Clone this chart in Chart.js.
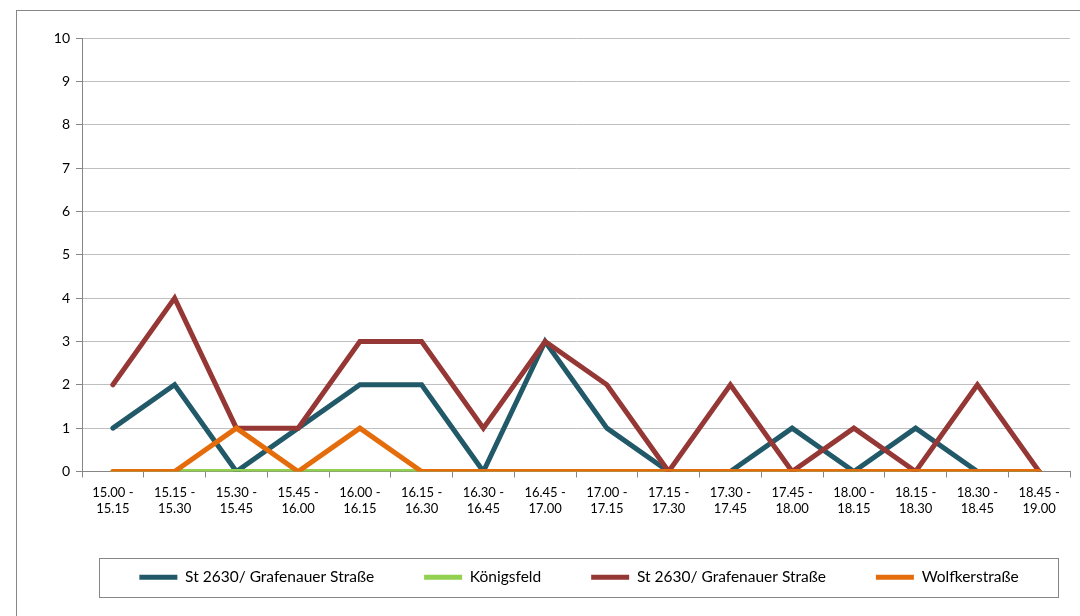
<!DOCTYPE html>
<html>
<head>
<meta charset="utf-8">
<script src="https://cdn.jsdelivr.net/npm/chart.js@4.4.1/dist/chart.umd.min.js"></script>
<style>
  html, body { margin: 0; padding: 0; background: #fff; }
  #wrap { width: 1080px; height: 616px; position: relative; }
</style>
</head>
<body>
<div id="wrap"><canvas id="c" width="1080" height="616"></canvas></div>
<script>
const categories = [
  ["15.00 -", "15.15"], ["15.15 -", "15.30"], ["15.30 -", "15.45"], ["15.45 -", "16.00"],
  ["16.00 -", "16.15"], ["16.15 -", "16.30"], ["16.30 -", "16.45"], ["16.45 -", "17.00"],
  ["17.00 -", "17.15"], ["17.15 -", "17.30"], ["17.30 -", "17.45"], ["17.45 -", "18.00"],
  ["18.00 -", "18.15"], ["18.15 -", "18.30"], ["18.30 -", "18.45"], ["18.45 -", "19.00"]
];
const seriesNames = ["St 2630/ Grafenauer Straße", "Königsfeld", "St 2630/ Grafenauer Straße", "Wolfkerstraße"];
const st2630a     = [1, 2, 0, 1, 2, 2, 0, 3, 1, 0, 0, 1, 0, 1, 0, 0];
const koenigsfeld = [0, 0, 0, 0, 0, 0, 0, 0, 0, 0, 0, 0, 0, 0, 0, 0];
const st2630b     = [2, 4, 1, 1, 3, 3, 1, 3, 2, 0, 2, 0, 1, 0, 2, 0];
const wolfker     = [0, 0, 1, 0, 1, 0, 0, 0, 0, 0, 0, 0, 0, 0, 0, 0];
const yTicks = [0, 1, 2, 3, 4, 5, 6, 7, 8, 9, 10];

const colors = ["#215968", "#92D050", "#953735", "#E46C0A"];
const FONT = "Lato, 'Open Sans', sans-serif";

const frame = {
  id: 'frame',
  beforeDraw(chart) {
    const ctx = chart.ctx;
    ctx.save();
    ctx.fillStyle = '#fff';
    ctx.fillRect(0, 0, chart.width, chart.height);
    ctx.strokeStyle = '#868686';
    ctx.lineWidth = 1;
    ctx.strokeRect(16.5, 10.5, 1200, 800);
    ctx.restore();
  },
  afterLayout(chart) {
    const lg = chart.legend;
    lg.left += 34;
    lg.right += 34;
  },
  afterDraw(chart) {
    const ctx = chart.ctx;
    ctx.save();
    ctx.strokeStyle = '#868686';
    ctx.lineWidth = 1;
    ctx.strokeRect(99.5, 558.5, 959, 39);
    ctx.restore();
  }
};

new Chart(document.getElementById('c'), {
  type: 'line',
  data: {
    labels: categories,
    datasets: [
      { label: seriesNames[0], data: st2630a, borderColor: colors[0], order: 3 },
      { label: seriesNames[1], data: koenigsfeld, borderColor: colors[1], order: 2 },
      { label: seriesNames[2], data: st2630b, borderColor: colors[2], order: 1 },
      { label: seriesNames[3], data: wolfker, borderColor: colors[3], order: 0 }
    ].map(d => Object.assign(d, {
      backgroundColor: d.borderColor, borderWidth: 5, pointRadius: 0, tension: 0, fill: false,
      borderCapStyle: 'round', borderJoinStyle: 'miter'
    }))
  },
  options: {
    responsive: false,
    animation: false,
    devicePixelRatio: 1,
    layout: { padding: { left: 20, right: 10, top: 38, bottom: 21 } },
    plugins: {
      tooltip: { enabled: false },
      legend: {
        position: 'bottom',
        labels: {
          boxWidth: 38, boxHeight: 5, padding: 50,
          color: '#000',
          font: { family: FONT, size: 15.5 },
          sort: (a, b) => a.datasetIndex - b.datasetIndex,
          generateLabels(chart) {
            return chart.data.datasets.map((ds, i) => ({
              text: ds.label, fillStyle: ds.borderColor, strokeStyle: ds.borderColor,
              lineWidth: 0, datasetIndex: i, hidden: false
            }));
          }
        }
      }
    },
    scales: {
      x: {
        offset: true,
        grid: { display: true, drawOnChartArea: false, drawTicks: true, tickLength: 6, color: '#868686', offset: true },
        border: { color: '#868686', width: 1 },
        ticks: { color: '#000', font: { family: FONT, size: 13, lineHeight: 1.25 }, maxRotation: 0, autoSkip: false, padding: 7 },
        afterFit(s) { s.height = 48; }
      },
      y: {
        min: 0, max: 10,
        afterBuildTicks(s) { s.ticks = yTicks.map(v => ({ value: v })); },
        grid: { color: '#BFBFBF', tickColor: '#868686', tickLength: 6 },
        border: { color: '#868686', width: 1 },
        ticks: { color: '#000', font: { family: FONT, size: 14 }, padding: 6 },
        afterFit(s) { s.width = 62; }
      }
    }
  },
  plugins: [frame]
});
</script>
</body>
</html>
